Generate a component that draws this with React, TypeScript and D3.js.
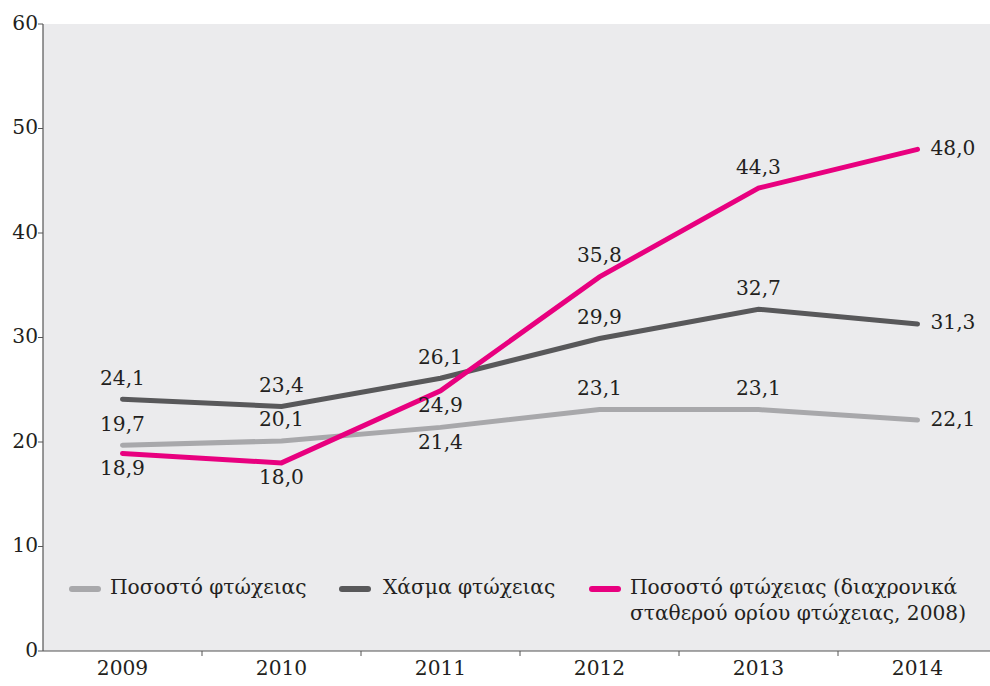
import React from "react";
import * as d3 from "d3";

const years = ["2009", "2010", "2011", "2012", "2013", "2014"];
const povertyRate = [19.7, 20.1, 21.4, 23.1, 23.1, 22.1];
const povertyGap = [24.1, 23.4, 26.1, 29.9, 32.7, 31.3];
const anchoredRate = [18.9, 18.0, 24.9, 35.8, 44.3, 48.0];
// label placement per point: "a" above, "b" below, "r" right
const povertyRatePos = ["a", "a", "b", "a", "a", "r"];
const povertyGapPos = ["a", "a", "a", "a", "a", "r"];
const anchoredPos = ["b", "b", "b", "a", "a", "r"];
const yTicks = [0, 10, 20, 30, 40, 50, 60];

const W = 990, H = 686;
const M = { left: 43, top: 24, right: 997, bottom: 651 };
const FONT = "'DejaVu Serif', serif";
const FS = 20.2;

const fmt = (v: number) => v.toFixed(1).replace(".", ",");

export default function App() {
  const x = d3.scaleBand<string>().domain(years).range([M.left, M.right]);
  const y = d3.scaleLinear().domain([0, 60]).range([M.bottom, M.top]);
  const cx = (d: string) => (x(d) as number) + x.bandwidth() / 2;
  const line = d3.line<number>().x((_, i) => cx(years[i])).y((v) => y(v));

  const series = [
    { name: "light", vals: povertyRate, pos: povertyRatePos, color: "#A8A8AB" },
    { name: "dark", vals: povertyGap, pos: povertyGapPos, color: "#58585A" },
    { name: "pink", vals: anchoredRate, pos: anchoredPos, color: "#E8007F" },
  ];

  return (
    <div style={{ position: "fixed", left: 0, top: 0 }}>
      <svg width={W} height={H} style={{ display: "block", background: "#fff" }}>
        <rect x={M.left} y={M.top} width={M.right - M.left} height={M.bottom - M.top} fill="#EBEBED" />
        {/* y axis */}
        <line x1={M.left} x2={M.left} y1={M.top} y2={M.bottom} stroke="#555" strokeWidth={1.2} />
        {yTicks.map((t) => (
          <g key={t}>
            <line x1={M.left - 5} x2={M.left} y1={y(t)} y2={y(t)} stroke="#555" strokeWidth={1} />
            <text x={M.left - 5} y={y(t)} textAnchor="end" dominantBaseline="middle" fontFamily={FONT} fontSize={FS} fill="#231F20">
              {t}
            </text>
          </g>
        ))}
        {/* x axis */}
        <line x1={M.left} x2={M.right} y1={M.bottom} y2={M.bottom} stroke="#555" strokeWidth={1.2} />
        {years.map((yr, i) => (
          <g key={yr}>
            {i > 0 && (
              <line x1={x(yr) as number} x2={x(yr) as number} y1={M.bottom} y2={M.bottom + 5} stroke="#555" strokeWidth={1} />
            )}
            <text x={cx(yr)} y={M.bottom + 18} textAnchor="middle" dominantBaseline="middle" fontFamily={FONT} fontSize={FS} fill="#231F20">
              {yr}
            </text>
          </g>
        ))}
        {/* lines */}
        {series.map((s) => (
          <path key={s.name} d={line(s.vals) as string} fill="none" stroke={s.color} strokeWidth={5} strokeLinecap="round" strokeLinejoin="miter" />
        ))}
        {/* labels */}
        {series.map((s) =>
          s.vals.map((v, i) => {
            const p = s.pos[i];
            const px = cx(years[i]);
            const py = y(v);
            let tx = px, ty = py, anchor = "middle";
            if (p === "a") ty = py - 20;
            else if (p === "b") ty = py + 16;
            else { tx = px + 13; anchor = "start"; }
            return (
              <text key={s.name + i} x={tx} y={ty} textAnchor={anchor} dominantBaseline="middle" fontFamily={FONT} fontSize={FS} fill="#231F20">
                {fmt(v)}
              </text>
            );
          })
        )}
        {/* legend */}
        <g fontFamily={FONT} fontSize={FS} fill="#231F20">
          <line x1={72} x2={98} y1={589} y2={589} stroke="#A8A8AB" strokeWidth={6} strokeLinecap="round" />
          <text x={110} y={588} dominantBaseline="middle">Ποσοστό φτώχειας</text>
          <line x1={342} x2={368} y1={589} y2={589} stroke="#58585A" strokeWidth={6} strokeLinecap="round" />
          <text x={383} y={588} dominantBaseline="middle">Χάσμα φτώχειας</text>
          <line x1={592} x2={618} y1={589} y2={589} stroke="#E8007F" strokeWidth={6} strokeLinecap="round" />
          <text x={630} y={588} dominantBaseline="middle">Ποσοστό φτώχειας (διαχρονικά</text>
          <text x={630} y={614} dominantBaseline="middle">σταθερού ορίου φτώχειας, 2008)</text>
        </g>
      </svg>
    </div>
  );
}
